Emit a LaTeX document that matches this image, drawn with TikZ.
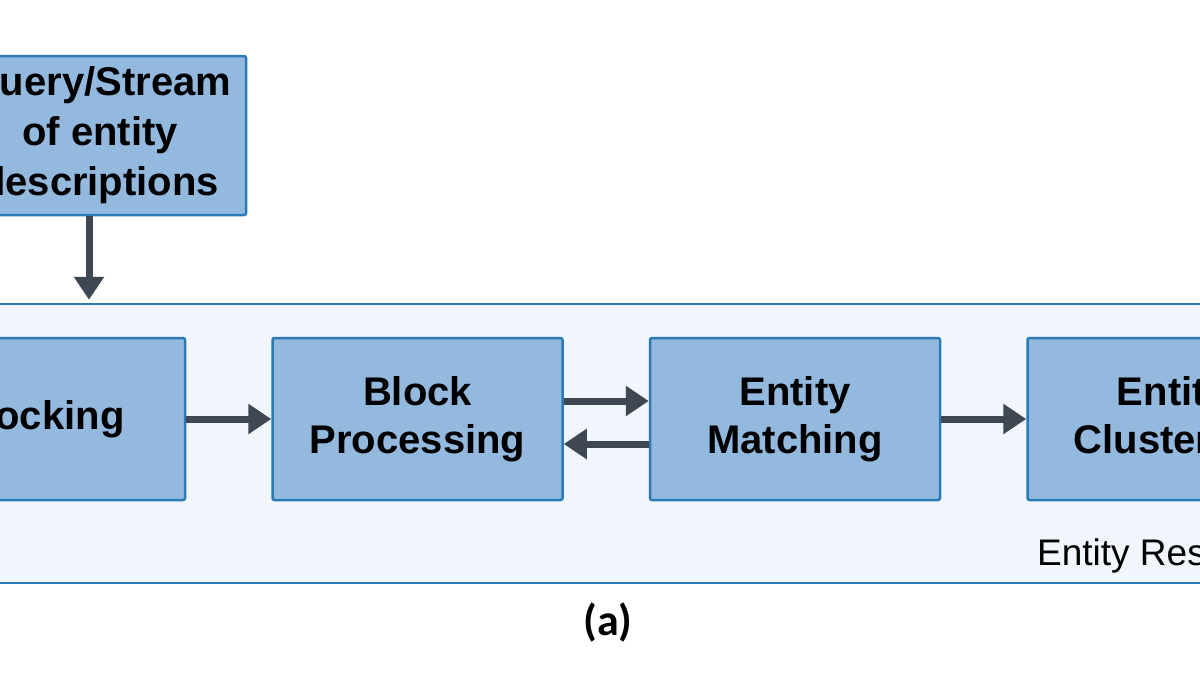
\documentclass[tikz,border=0pt]{standalone}
\usepackage{fontspec}
\setmainfont{Liberation Sans}
\newfontfamily\capfont{Carlito}
\usetikzlibrary{arrows.meta,positioning}
\definecolor{boxfill}{HTML}{94B9DF}
\definecolor{boxline}{HTML}{2A7AB5}
\definecolor{erfill}{HTML}{F1F6FC}
\definecolor{arrowgray}{HTML}{3F4752}
\tikzset{
	stage/.style={draw=boxline,line width=2.5pt,fill=boxfill,rounded corners=2pt,
		minimum width=290pt,minimum height=162pt,inner sep=0pt,align=center,
		font=\fontsize{40}{48}\selectfont\bfseries},
	flow/.style={draw=arrowgray,line width=7pt,-{Triangle[length=23pt,width=29pt]}}
}
\begin{document}
\begin{tikzpicture}[x=1pt,y=-1pt]
				% Frame
				\useasboundingbox[fill=white] (0,0) rectangle (1200,675);
				
				% Entity resolution area
				\node[draw=boxline,line width=2.5pt,fill=erfill,minimum width=1320pt,minimum height=279pt] (er) at (600,443.5) {};
				\node[anchor=base west,inner sep=0pt,font=\fontsize{37}{42}\selectfont] (erlabel) at (1037,565) {Entity Resolution};
				
				% Input
				\node[stage,minimum width=292pt,minimum height=159pt,font=\fontsize{40}{50}\selectfont\bfseries] (query) at (100,135.5) {Query/Stream\\of entity\\descriptions};
				
				% Stages
				\node[stage] (blocking) at (40,419) {Blocking};
				\node[stage,right=85pt of blocking] (blockproc) {Block\\Processing};
				\node[stage,right=85pt of blockproc] (matching) {Entity\\Matching};
				\node[stage,right=85pt of matching] (clustering) {Entity\\Clustering};
				
				% Arrows
				\draw[flow,shorten >=3pt] ([xshift=-11pt]query.south) -- ([xshift=-11pt]query.south |- er.north);
				\draw[flow] (blocking) -- (blockproc);
				\draw[flow] ([yshift=18pt]blockproc.east) -- ([yshift=18pt]matching.west);
				\draw[flow] ([yshift=-25pt]matching.west) -- ([yshift=-25pt]blockproc.east);
				\draw[flow] (matching) -- (clustering);
				
				% Caption
				\node[font=\capfont\bfseries\fontsize{44}{48}\selectfont] (caption) at (608,622) {(a)};
			\end{tikzpicture}
\end{document}
